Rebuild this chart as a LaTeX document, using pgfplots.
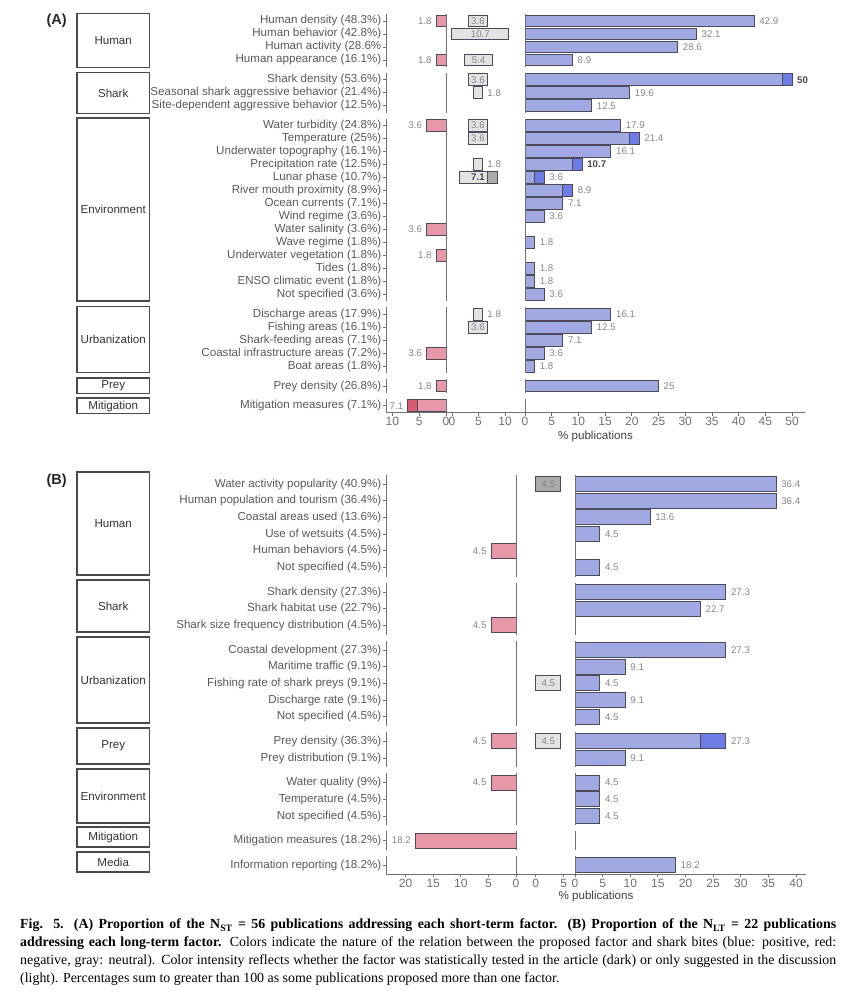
\documentclass[border=0pt]{standalone}
\usepackage{fontspec}
\setmainfont{Liberation Sans}
\newfontfamily\capfont{Liberation Serif}
\usepackage{pgfplots}
\pgfplotsset{compat=1.18}

\definecolor{lblue}{HTML}{A0A9E2}
\definecolor{dblue}{HTML}{6E7DE6}
\definecolor{lred}{HTML}{E897A6}
\definecolor{dred}{HTML}{D75A73}
\definecolor{lgray}{HTML}{E3E3E3}
\definecolor{dgray}{HTML}{ABABAB}
\definecolor{edge}{HTML}{4A4A58}
\definecolor{axgray}{HTML}{707070}
\definecolor{txtgray}{HTML}{585858}
\definecolor{valgray}{HTML}{858585}
\definecolor{boldgray}{HTML}{4A4A4A}
\definecolor{boxc}{HTML}{4A4A4A}

\newcommand\ffont{\fontsize{11.6}{13}\selectfont}
\newcommand\vfont{\fontsize{9.7}{11}\selectfont}
\newcommand\tfont{\fontsize{12}{14}\selectfont}

\pgfplotsset{
 base/.style={scale only axis, clip=false, anchor=north west,
   axis x line=bottom, axis y line=none,
   x axis line style={-, draw=axgray, line width=0.9pt},
   tick align=outside, major tick length=3pt,
   xtick style={draw=axgray, line width=0.8pt},
   ytick=\empty,
   xticklabel style={font=\tfont, text=axgray, inner sep=1.5pt},
   /pgf/number format/assume math mode=true},
 labax/.style={scale only axis, clip=false, anchor=north west, hide axis},
 bars/.style={xbar, bar width=0.9, bar shift=0pt, draw=edge, line width=1pt, forget plot},
 seg/.style={draw=axgray, line width=0.9pt, forget plot},
 vlab/.style={draw=none, mark=none, nodes near coords, point meta=explicit symbolic, forget plot,
   every node near coord/.append style={font=\vfont, text=valgray, inner sep=0pt}},
 vright/.style={vlab, every node near coord/.append style={anchor=west, xshift=5pt}},
 vleft/.style={vlab, every node near coord/.append style={anchor=east, xshift=-4.5pt}},
 vmid/.style={vlab, every node near coord/.append style={anchor=center}},
 vbold/.style={every node near coord/.append style={font=\vfont\bfseries, text=boldgray}},
 flab/.style={draw=none, mark=none, nodes near coords, point meta=explicit symbolic, forget plot,
   every node near coord/.append style={font=\ffont, text=txtgray, inner sep=0pt, anchor=east, xshift=-4.5pt}},
 ftick/.style={only marks, mark=-, mark size=1.6pt, forget plot,
   mark options={draw=axgray, line width=0.8pt, xshift=-1.6pt}},
}
\newcommand\vseg[3]{\addplot[seg] coordinates {(#1,#2) (#1,#3)};}
\newcommand\gbox[4]{\draw[draw=boxc, line width=1.2pt] (77pt,-#1pt) rectangle (149.3pt,-#2pt);
  \node[font=\ffont, text=black!80] at (113.2pt,-#3pt) {#4};}

\begin{document}
\begin{tikzpicture}
\useasboundingbox (0pt,0pt) rectangle (856pt,-1000pt);

% ================= PANEL A =================
\node[font=\bfseries\fontsize{14.5}{16}\selectfont, text=black!85] at (56.7pt,-21pt) {(A)};
\gbox{13.3}{67.3}{40.3}{Human}
\gbox{72.7}{113.3}{93}{Shark}
\gbox{118}{301}{209.5}{Environment}
\gbox{306.3}{372.7}{339.5}{Urbanization}
\gbox{378}{393.3}{386.2}{Prey}
\gbox{398}{413.3}{406.2}{Mitigation}

% red (negative)
\begin{axis}[base, at={(386pt,-13.85pt)}, width=60pt, height=398.71pt,
  xmin=-11.17, xmax=0, ymin=-30.12, ymax=0.55,
  xtick={-10,-5,0}, xticklabels={10,5,0}]
\addplot[bars, fill=dred] coordinates {(-7.1,-29.6)};
\addplot[bars, fill=lred] coordinates {(-1.8,0) (-1.8,-3) (-3.6,-8.04) (-3.6,-16.04) (-1.8,-18.04) (-3.6,-25.56) (-1.8,-28.08) (-5.3,-29.6)};
\vseg{-11.17}{0.53}{-3.53}\vseg{-11.17}{-3.99}{-7.05}\vseg{-11.17}{-7.51}{-21.57}
\vseg{-11.17}{-22.03}{-27.09}\vseg{-11.17}{-27.55}{-28.61}\vseg{-11.17}{-29.07}{-30.12}
\vseg{0}{0.53}{-3.53}\vseg{0}{-3.99}{-7.05}\vseg{0}{-7.51}{-21.57}
\vseg{0}{-22.03}{-27.09}\vseg{0}{-27.55}{-28.61}\vseg{0}{-29.07}{-30.12}
\addplot[vleft] coordinates {(-1.8,0)[1.8] (-1.8,-3)[1.8] (-3.6,-8.04)[3.6] (-3.6,-16.04)[3.6] (-1.8,-18.04)[1.8] (-3.6,-25.56)[3.6] (-1.8,-28.08)[1.8] (-7.1,-29.6)[7.1]};
\addplot[ftick] coordinates {(-11.17,0) (-11.17,-1) (-11.17,-2) (-11.17,-3) (-11.17,-4.52) (-11.17,-5.52) (-11.17,-6.52) (-11.17,-8.04) (-11.17,-9.04) (-11.17,-10.04) (-11.17,-11.04) (-11.17,-12.04) (-11.17,-13.04) (-11.17,-14.04) (-11.17,-15.04) (-11.17,-16.04) (-11.17,-17.04) (-11.17,-18.04) (-11.17,-19.04) (-11.17,-20.04) (-11.17,-21.04) (-11.17,-22.56) (-11.17,-23.56) (-11.17,-24.56) (-11.17,-25.56) (-11.17,-26.56) (-11.17,-28.08) (-11.17,-29.6)};
\addplot[flab] coordinates {
(-11.17,0)[Human density (48.3\%)]
(-11.17,-1)[Human behavior (42.8\%)]
(-11.17,-2)[Human activity (28.6\%]
(-11.17,-3)[Human appearance (16.1\%)]
(-11.17,-4.52)[Shark density (53.6\%)]
(-11.17,-5.52)[Seasonal shark aggressive behavior (21.4\%)]
(-11.17,-6.52)[Site-dependent aggressive behavior (12.5\%)]
(-11.17,-8.04)[Water turbidity (24.8\%)]
(-11.17,-9.04)[Temperature (25\%)]
(-11.17,-10.04)[Underwater topography (16.1\%)]
(-11.17,-11.04)[Precipitation rate (12.5\%)]
(-11.17,-12.04)[Lunar phase (10.7\%)]
(-11.17,-13.04)[River mouth proximity (8.9\%)]
(-11.17,-14.04)[Ocean currents (7.1\%)]
(-11.17,-15.04)[Wind regime (3.6\%)]
(-11.17,-16.04)[Water salinity (3.6\%)]
(-11.17,-17.04)[Wave regime (1.8\%)]
(-11.17,-18.04)[Underwater vegetation (1.8\%)]
(-11.17,-19.04)[Tides (1.8\%)]
(-11.17,-20.04)[ENSO climatic event (1.8\%)]
(-11.17,-21.04)[Not specified (3.6\%)]
(-11.17,-22.56)[Discharge areas (17.9\%)]
(-11.17,-23.56)[Fishing areas (16.1\%)]
(-11.17,-24.56)[Shark-feeding areas (7.1\%)]
(-11.17,-25.56)[Coastal infrastructure areas (7.2\%)]
(-11.17,-26.56)[Boat areas (1.8\%)]
(-11.17,-28.08)[Prey density (26.8\%)]
(-11.17,-29.6)[Mitigation measures (7.1\%)]};
\end{axis}

% gray (neutral)
\begin{axis}[base, at={(446pt,-13.85pt)}, width=79pt, height=398.71pt,
  xmin=-1.13, xmax=13.77, ymin=-30.12, ymax=0.55, xtick={0,5,10},
  xbar stacked, bar width=0.9]
\addplot[draw=none, fill=none] coordinates {(3.1,0) (0,-1) (2.3,-3) (3.1,-4.52) (4.0,-5.52) (3.1,-8.04) (3.1,-9.04) (4.0,-11.04) (1.35,-12.04) (4.0,-22.56) (3.1,-23.56)};
\addplot[fill=lgray, draw=edge, line width=1pt] coordinates {(3.6,0) (10.7,-1) (5.4,-3) (3.6,-4.52) (1.8,-5.52) (3.6,-8.04) (3.6,-9.04) (1.8,-11.04) (5.4,-12.04) (1.8,-22.56) (3.6,-23.56)};
\addplot[fill=dgray, draw=edge, line width=1pt] coordinates {(0,0) (0,-1) (0,-3) (0,-4.52) (0,-5.52) (0,-8.04) (0,-9.04) (0,-11.04) (1.8,-12.04) (0,-22.56) (0,-23.56)};
\end{axis}
\begin{axis}[labax, at={(446pt,-13.85pt)}, width=79pt, height=398.71pt,
  xmin=-1.13, xmax=13.77, ymin=-30.12, ymax=0.55]
\addplot[vmid] coordinates {(4.9,0)[3.6] (5.35,-1)[10.7] (5.0,-3)[5.4] (4.9,-4.52)[3.6] (4.9,-8.04)[3.6] (4.9,-9.04)[3.6] (4.9,-23.56)[3.6]};
\addplot[vmid, vbold] coordinates {(4.9,-12.04)[7.1]};
\addplot[vlab, every node near coord/.append style={anchor=west, xshift=4.5pt}] coordinates {(5.8,-5.52)[1.8] (5.8,-11.04)[1.8] (5.8,-22.56)[1.8]};
\end{axis}

% blue (positive)
\begin{axis}[base, at={(525pt,-13.85pt)}, width=280pt, height=398.71pt,
  xmin=0, xmax=52.43, ymin=-30.12, ymax=0.55, xtick={0,5,...,50}]
\addplot[bars, fill=dblue] coordinates {(50,-4.52) (21.4,-9.04) (10.7,-11.04) (3.6,-12.04) (8.9,-13.04)};
\addplot[bars, fill=lblue] coordinates {(42.9,0) (32.1,-1) (28.6,-2) (8.9,-3) (48.2,-4.52) (19.6,-5.52) (12.5,-6.52) (17.9,-8.04) (19.6,-9.04) (16.1,-10.04) (8.9,-11.04) (1.8,-12.04) (7.1,-13.04) (7.1,-14.04) (3.6,-15.04) (1.8,-17.04) (1.8,-19.04) (1.8,-20.04) (3.6,-21.04) (16.1,-22.56) (12.5,-23.56) (7.1,-24.56) (3.6,-25.56) (1.8,-26.56) (25,-28.08)};
\vseg{0}{0.53}{-3.53}\vseg{0}{-3.99}{-7.05}\vseg{0}{-7.51}{-21.57}
\vseg{0}{-22.03}{-27.09}\vseg{0}{-27.55}{-28.61}\vseg{0}{-29.07}{-30.12}
\addplot[vright] coordinates {(42.9,0)[42.9] (32.1,-1)[32.1] (28.6,-2)[28.6] (8.9,-3)[8.9] (19.6,-5.52)[19.6] (12.5,-6.52)[12.5] (17.9,-8.04)[17.9] (21.4,-9.04)[21.4] (16.1,-10.04)[16.1] (3.6,-12.04)[3.6] (8.9,-13.04)[8.9] (7.1,-14.04)[7.1] (3.6,-15.04)[3.6] (1.8,-17.04)[1.8] (1.8,-19.04)[1.8] (1.8,-20.04)[1.8] (3.6,-21.04)[3.6] (16.1,-22.56)[16.1] (12.5,-23.56)[12.5] (7.1,-24.56)[7.1] (3.6,-25.56)[3.6] (1.8,-26.56)[1.8] (25,-28.08)[25]};
\addplot[vright, vbold] coordinates {(50,-4.52)[50] (10.7,-11.04)[10.7]};
\end{axis}
\node[font=\ffont, text=black!75] at (595.5pt,-436.5pt) {\% publications};

% ================= PANEL B =================
\node[font=\bfseries\fontsize{14.5}{16}\selectfont, text=black!85] at (56.7pt,-480.7pt) {(B)};
\gbox{472}{575}{523.5}{Human}
\gbox{580}{632}{606}{Shark}
\gbox{637}{723}{680}{Urbanization}
\gbox{728}{764}{746}{Prey}
\gbox{769}{823}{796}{Environment}
\gbox{827}{847}{837.3}{Mitigation}
\gbox{852}{872}{862.3}{Media}

\begin{axis}[base, at={(386pt,-474.48pt)}, width=130pt, height=399.8pt,
  xmin=-23.55, xmax=0, ymin=-23.37, ymax=0.57,
  xtick={-20,-15,-10,-5,0}, xticklabels={20,15,10,5,0}]
\addplot[bars, fill=lred] coordinates {(-4.5,-4) (-4.5,-8.47) (-4.5,-15.41) (-4.5,-17.88) (-18.2,-21.35)};
\vseg{-23.55}{0.55}{-5.55}\vseg{-23.55}{-5.92}{-9.02}\vseg{-23.55}{-9.39}{-14.49}\vseg{-23.55}{-14.86}{-16.96}
\vseg{-23.55}{-17.33}{-20.43}\vseg{-23.55}{-20.80}{-21.90}\vseg{-23.55}{-22.27}{-23.37}
\vseg{0}{0.55}{-5.55}\vseg{0}{-5.92}{-9.02}\vseg{0}{-9.39}{-14.49}\vseg{0}{-14.86}{-16.96}
\vseg{0}{-17.33}{-20.43}\vseg{0}{-20.80}{-21.90}\vseg{0}{-22.27}{-23.37}
\addplot[vleft] coordinates {(-4.5,-4)[4.5] (-4.5,-8.47)[4.5] (-4.5,-15.41)[4.5] (-4.5,-17.88)[4.5] (-18.2,-21.35)[18.2]};
\addplot[ftick] coordinates {(-23.55,0) (-23.55,-1) (-23.55,-2) (-23.55,-3) (-23.55,-4) (-23.55,-5) (-23.55,-6.47) (-23.55,-7.47) (-23.55,-8.47) (-23.55,-9.94) (-23.55,-10.94) (-23.55,-11.94) (-23.55,-12.94) (-23.55,-13.94) (-23.55,-15.41) (-23.55,-16.41) (-23.55,-17.88) (-23.55,-18.88) (-23.55,-19.88) (-23.55,-21.35) (-23.55,-22.82)};
\addplot[flab] coordinates {
(-23.55,0)[Water activity popularity (40.9\%)]
(-23.55,-1)[Human population and tourism (36.4\%)]
(-23.55,-2)[Coastal areas used (13.6\%)]
(-23.55,-3)[Use of wetsuits (4.5\%)]
(-23.55,-4)[Human behaviors (4.5\%)]
(-23.55,-5)[Not specified (4.5\%)]
(-23.55,-6.47)[Shark density (27.3\%)]
(-23.55,-7.47)[Shark habitat use (22.7\%)]
(-23.55,-8.47)[Shark size frequency distribution (4.5\%)]
(-23.55,-9.94)[Coastal development (27.3\%)]
(-23.55,-10.94)[Maritime traffic (9.1\%)]
(-23.55,-11.94)[Fishing rate of shark preys (9.1\%)]
(-23.55,-12.94)[Discharge rate (9.1\%)]
(-23.55,-13.94)[Not specified (4.5\%)]
(-23.55,-15.41)[Prey density (36.3\%)]
(-23.55,-16.41)[Prey distribution (9.1\%)]
(-23.55,-17.88)[Water quality (9\%)]
(-23.55,-18.88)[Temperature (4.5\%)]
(-23.55,-19.88)[Not specified (4.5\%)]
(-23.55,-21.35)[Mitigation measures (18.2\%)]
(-23.55,-22.82)[Information reporting (18.2\%)]};
\end{axis}

\begin{axis}[base, at={(516pt,-474.48pt)}, width=59pt, height=399.8pt,
  xmin=-3.52, xmax=7.02, ymin=-23.37, ymax=0.57, xtick={0,5}]
\addplot[bars, fill=dgray] coordinates {(4.5,0)};
\addplot[bars, fill=lgray] coordinates {(4.5,-11.94) (4.5,-15.41)};
\addplot[vmid] coordinates {(2.25,0)[4.5] (2.25,-11.94)[4.5] (2.25,-15.41)[4.5]};
\end{axis}

\begin{axis}[base, at={(575pt,-474.48pt)}, width=231pt, height=399.8pt,
  xmin=0, xmax=41.81, ymin=-23.37, ymax=0.57, xtick={0,5,...,40}]
\addplot[bars, fill=dblue] coordinates {(27.3,-15.41)};
\addplot[bars, fill=lblue] coordinates {(36.4,0) (36.4,-1) (13.6,-2) (4.5,-3) (4.5,-5) (27.3,-6.47) (22.7,-7.47) (27.3,-9.94) (9.1,-10.94) (4.5,-11.94) (9.1,-12.94) (4.5,-13.94) (22.7,-15.41) (9.1,-16.41) (4.5,-17.88) (4.5,-18.88) (4.5,-19.88) (18.2,-22.82)};
\vseg{0}{0.55}{-5.55}\vseg{0}{-5.92}{-9.02}\vseg{0}{-9.39}{-14.49}\vseg{0}{-14.86}{-16.96}
\vseg{0}{-17.33}{-20.43}\vseg{0}{-20.80}{-21.90}\vseg{0}{-22.27}{-23.37}
\addplot[vright] coordinates {(36.4,0)[36.4] (36.4,-1)[36.4] (13.6,-2)[13.6] (4.5,-3)[4.5] (4.5,-5)[4.5] (27.3,-6.47)[27.3] (22.7,-7.47)[22.7] (27.3,-9.94)[27.3] (9.1,-10.94)[9.1] (4.5,-11.94)[4.5] (9.1,-12.94)[9.1] (4.5,-13.94)[4.5] (27.3,-15.41)[27.3] (9.1,-16.41)[9.1] (4.5,-17.88)[4.5] (4.5,-18.88)[4.5] (4.5,-19.88)[4.5] (18.2,-22.82)[18.2]};
\end{axis}
\node[font=\ffont, text=black!75] at (596pt,-896pt) {\% publications};

% ================= CAPTION =================
\node[anchor=north west, inner sep=0pt, text width=816pt, align=justify,
  font=\capfont\fontsize{13.9}{17.7}\selectfont] at (20pt,-919pt) {%
\textbf{Fig. 5. (A) Proportion of the N\textsubscript{ST} = 56 publications addressing each short-term factor. (B) Proportion of the N\textsubscript{LT} = 22 publications\linebreak addressing each long-term factor.} Colors indicate the nature of the relation between the proposed factor and shark bites (blue: positive, red:\linebreak negative, gray: neutral). Color intensity reflects whether the factor was statistically tested in the article (dark) or only suggested in the discussion\linebreak (light). Percentages sum to greater than 100 as some publications proposed more than one factor.};
\end{tikzpicture}
\end{document}
